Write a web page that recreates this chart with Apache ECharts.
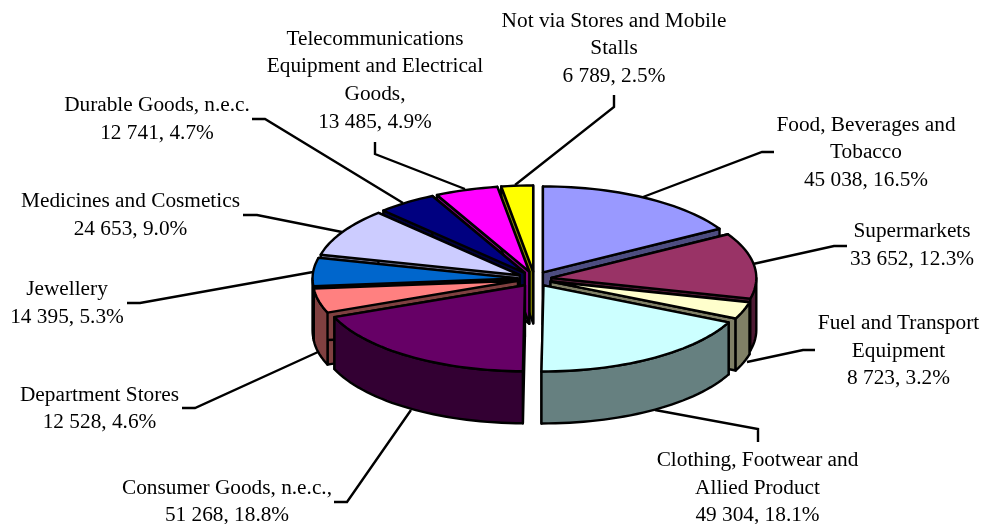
<!DOCTYPE html>
<html>
<head>
<meta charset="utf-8">
<title>Retail turnover by store type</title>
<script src="https://cdn.jsdelivr.net/npm/echarts@6/dist/echarts.min.js"></script>
<style>
  html, body { margin: 0; background: #fff; }
  #chart { width: 982px; height: 524px; }
</style>
</head>
<body>
<div id="chart"></div>
<script>
const names = [
  'Food, Beverages and\nTobacco',
  'Supermarkets',
  'Fuel and Transport\nEquipment',
  'Clothing, Footwear and\nAllied Product',
  'Consumer Goods, n.e.c.,',
  'Department Stores',
  'Jewellery',
  'Medicines and Cosmetics',
  'Durable Goods, n.e.c.',
  'Telecommunications\nEquipment and Electrical\nGoods,',
  'Not via Stores and Mobile\nStalls'
];
const values = [45038, 33652, 8723, 49304, 51268, 12528, 14395, 24653, 12741, 13485, 6789];
const topColors = ['#9999ff', '#993366', '#ffffcc', '#ccffff', '#660066', '#ff8080', '#0066cc', '#ccccff', '#000080', '#ff00ff', '#ffff00'];
const sideColors = ['#4d4d80', '#4d1a33', '#808066', '#668080', '#330033', '#804040', '#003366', '#666680', '#000040', '#800080', '#808000'];

// label block centre and leader line for each slice, same order as names
const labelCentres = [[866, 152.5], [912, 245.5], [898.5, 351], [757.5, 488], [227, 502], [99.5, 409], [67, 303.5], [130.5, 215.5], [157, 119.5], [375, 80.5], [614, 48.5]];
const leaders = [
  [[643, 197], [762, 152], [774, 152]],
  [[753, 264], [834, 246], [847, 246]],
  [[747, 362], [803, 350], [815, 350]],
  [[655, 410], [758, 429], [758, 442]],
  [[411, 410], [347, 502], [334, 502]],
  [[318, 352], [195, 408], [182, 408]],
  [[313, 272], [140, 303], [127, 303]],
  [[342, 232], [257, 215], [243, 215]],
  [[403, 203], [265, 119], [252, 119]],
  [[465, 189], [375, 154], [375, 142]],
  [[515, 185], [614, 107], [614, 95]]
];

const cx = 534.5, cy = 279;
const rx = 205, ry = 86;
const depth = 52;
const explode = 17, explodeY = 7.6;

const total = values.reduce((sum, val) => sum + val, 0);
const slices = [];
let acc = 0;
values.forEach((val, i) => {
  const start = (acc / total) * 360;
  acc += val;
  const end = (acc / total) * 360;
  const mid = ((start + end) / 2) * Math.PI / 180;
  slices.push({
    index: i,
    start,
    end,
    ax: cx + explode * Math.sin(mid),
    ay: cy - explodeY * Math.cos(mid)
  });
});

// paint from the back of the pie to the front
const drawOrder = slices.slice().sort((a, b) => a.ay - b.ay).map(s => s.index);

function rimPoint(s, deg, drop) {
  const t = deg * Math.PI / 180;
  return [s.ax + rx * Math.sin(t), s.ay - ry * Math.cos(t) + drop];
}

function arc(s, from, to, drop) {
  const pts = [];
  const steps = Math.max(2, Math.ceil((to - from) / 2));
  for (let k = 0; k <= steps; k++) {
    pts.push(rimPoint(s, from + ((to - from) * k) / steps, drop));
  }
  return pts;
}

function poly(points, fill) {
  return {
    type: 'polygon',
    shape: { points },
    style: { fill, stroke: '#000', lineWidth: 2.4, lineJoin: 'round' }
  };
}

function renderSlice(params, api) {
  const s = slices[api.value(0)];
  const side = sideColors[s.index];
  const children = [];
  [s.start, s.end].forEach(deg => {
    const a = rimPoint(s, deg, 0);
    const b = rimPoint(s, deg, depth);
    children.push(poly([[s.ax, s.ay], a, b, [s.ax, s.ay + depth]], side));
  });
  const from = Math.max(s.start, 90);
  const to = Math.min(s.end, 270);
  if (to > from) {
    children.push(poly(arc(s, from, to, 0).concat(arc(s, from, to, depth).reverse()), side));
  }
  children.push(poly([[s.ax, s.ay]].concat(arc(s, s.start, s.end, 0)), topColors[s.index]));
  return { type: 'group', children };
}

function labelText(i) {
  const num = String(values[i]).replace(/\B(?=(\d{3})+$)/g, ' ');
  return `${names[i]}\n${num}, ${((values[i] / total) * 100).toFixed(1)}%`;
}

const leaderLines = leaders.map(points => ({
  type: 'polyline',
  shape: { points },
  style: { fill: 'none', stroke: '#000', lineWidth: 2.4 },
  z: 1
}));

const labels = names.map((name, i) => ({
  type: 'text',
  x: labelCentres[i][0],
  y: labelCentres[i][1],
  style: {
    text: labelText(i),
    font: '21.3px "Liberation Serif", "Times New Roman", serif',
    lineHeight: 27.6,
    fill: '#000',
    align: 'center',
    verticalAlign: 'middle'
  },
  z: 3
}));

const chart = echarts.init(document.getElementById('chart'));
chart.setOption({
  animation: false,
  backgroundColor: '#fff',
  tooltip: { show: false },
  graphic: { elements: leaderLines.concat(labels) },
  series: [
    {
      type: 'custom',
      coordinateSystem: 'none',
      renderItem: renderSlice,
      z: 2,
      silent: true,
      data: drawOrder.map(i => [i])
    }
  ]
});
</script>
</body>
</html>
